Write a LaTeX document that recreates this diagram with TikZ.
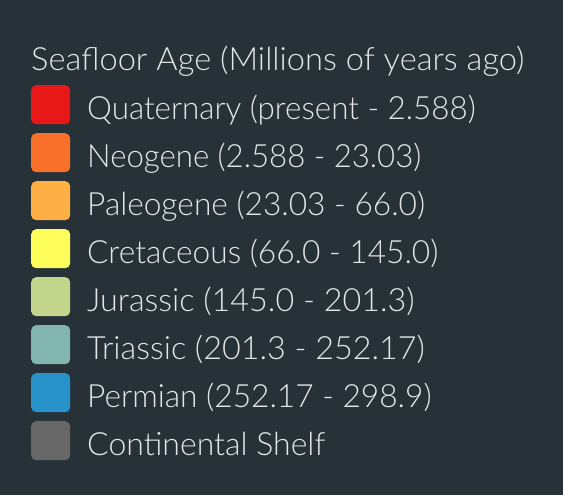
\documentclass[tikz,border=0pt]{standalone}
\usepackage{fontspec}
\setmainfont{Lato Light}
\definecolor{bg}{HTML}{263238}
\definecolor{txt}{HTML}{E4E6E7}
\definecolor{cQ}{HTML}{E81818}
\definecolor{cN}{HTML}{F8702A}
\definecolor{cP}{HTML}{FEB044}
\definecolor{cC}{HTML}{FEFE5A}
\definecolor{cJ}{HTML}{C3D68B}
\definecolor{cT}{HTML}{81B5AE}
\definecolor{cPe}{HTML}{2793CA}
\definecolor{cS}{HTML}{676767}
\tikzset{
  swatch/.style={draw=none, rounded corners=5pt, minimum width=39pt, minimum height=39pt, inner sep=0pt, anchor=north west},
  label/.style={text=txt, inner sep=0pt, anchor=base west, font=\fontsize{32}{38}\selectfont},
}
\begin{document}
\begin{tikzpicture}[x=1pt,y=-1pt]
\fill[bg] (0,0) rectangle (563,495);
\useasboundingbox (0,0) rectangle (563,495);
\node[label] (title) at (31,71) {\scalebox{1.02}[1]{Seafloor Age (Millions of years ago)}};
\foreach \i/\c/\s/\t in {0/cQ/0.98/{Quaternary (present - 2.588)},1/cN/0.974/{Neogene (2.588 - 23.03)},2/cP/0.99/{Paleogene (23.03 - 66.0)},3/cC/0.99/{Cretaceous (66.0 - 145.0)},4/cJ/1.01/{Jurassic (145.0 - 201.3)},5/cT/1.01/{Triassic (201.3 - 252.17)},6/cPe/0.99/{Permian (252.17 - 298.9)},7/cS/1.0/{Continental Shelf}}{
  \node[swatch, fill=\c] (sw\i) at (31,{85+48*\i}) {};
  \node[label] (lb\i) at (87,{119.5+48*\i}) {\scalebox{\s}[1]{\t}};
}
\end{tikzpicture}
\end{document}
